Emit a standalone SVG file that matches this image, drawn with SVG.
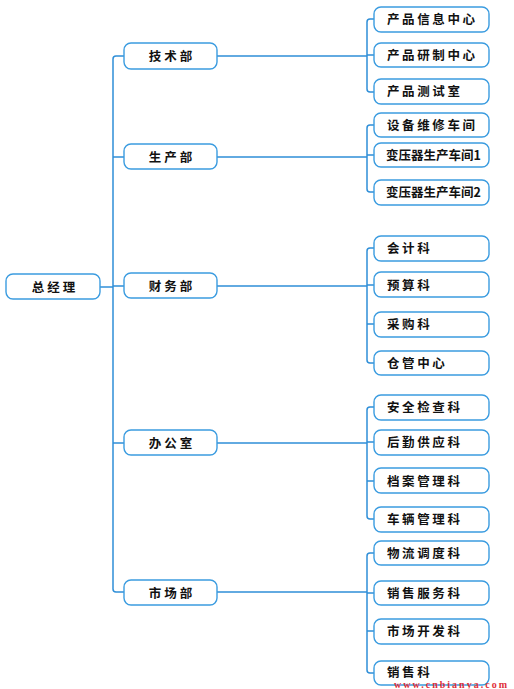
<svg xmlns="http://www.w3.org/2000/svg" width="514" height="689" viewBox="0 0 514 689">
<style>
.box{fill:#ffffff;stroke:#3b9ce0;stroke-width:1.4}
.ln{fill:none;stroke:#2f8fd8;stroke-width:1.5}
.t{font-family:"Noto Sans CJK SC","Noto Sans",sans-serif;font-size:12.5px;font-weight:bold;fill:#111}
.c{text-anchor:middle;letter-spacing:3px}
.s{letter-spacing:2.6px}
</style>
<rect width="514" height="689" fill="#ffffff"/>
<g id="connectors">
<path class="ln" d="M100,287 H113"/>
<path class="ln" d="M124,56 H116 Q113,56 113,59 V589 Q113,592 116,592 H124"/>
<path class="ln" d="M113,157 H124 M113,286 H124 M113,443 H124"/>
<path class="ln" d="M217,56 H367 M217,157 H367 M217,286 H367 M217,443 H367 M217,592 H367"/>
<path class="ln" d="M374,19 H370 Q367,19 367,22 V89 Q367,92 370,92 H374 M367,55 H374"/>
<path class="ln" d="M374,125 H370 Q367,125 367,128 V189 Q367,192 370,192 H374 M367,155 H374"/>
<path class="ln" d="M374,248 H370 Q367,248 367,251 V360 Q367,363 370,363 H374 M367,285 H374 M367,324 H374"/>
<path class="ln" d="M374,407 H370 Q367,407 367,410 V516 Q367,519 370,519 H374 M367,442 H374 M367,481 H374"/>
<path class="ln" d="M374,553 H370 Q367,553 367,556 V670 Q367,673 370,673 H374 M367,593 H374 M367,631 H374"/>
</g>
<g id="n-zjl"><rect class="box" x="6" y="274" width="94" height="25" rx="7"/><text class="t c" x="55" y="292">总经理</text></g>
<g id="n-jsb"><rect class="box" x="124" y="43" width="93" height="26" rx="7"/><text class="t c" x="172" y="61">技术部</text></g>
<g id="n-scb"><rect class="box" x="124" y="144" width="93" height="25" rx="7"/><text class="t c" x="172" y="161.5">生产部</text></g>
<g id="n-cwb"><rect class="box" x="124" y="273" width="93" height="25" rx="7"/><text class="t c" x="172" y="290.5">财务部</text></g>
<g id="n-bgs"><rect class="box" x="124" y="430" width="93" height="25" rx="7"/><text class="t c" x="172" y="447.5">办公室</text></g>
<g id="n-scb2"><rect class="box" x="124" y="580" width="93" height="25" rx="7"/><text class="t c" x="172" y="597.5">市场部</text></g>

<g id="n-1"><rect class="box" x="374" y="7" width="115" height="25" rx="7"/><text class="t s" x="387" y="24">产品信息中心</text></g>
<g id="n-2"><rect class="box" x="374" y="43" width="115" height="24" rx="7"/><text class="t s" x="387" y="59.5">产品研制中心</text></g>
<g id="n-3"><rect class="box" x="374" y="79" width="115" height="25" rx="7"/><text class="t s" x="387" y="96">产品测试室</text></g>
<g id="n-4"><rect class="box" x="374" y="113" width="115" height="24" rx="7"/><text class="t s" x="387" y="129.5">设备维修车间</text></g>
<g id="n-5"><rect class="box" x="374" y="143" width="115" height="24" rx="7"/><text class="t" x="386" y="159.5">变压器生产车间1</text></g>
<g id="n-6"><rect class="box" x="374" y="180" width="115" height="25" rx="7"/><text class="t" x="386" y="197">变压器生产车间2</text></g>

<g id="n-7"><rect class="box" x="374" y="236" width="115" height="25" rx="7"/><text class="t s" x="387" y="253">会计科</text></g>
<g id="n-8"><rect class="box" x="374" y="272" width="115" height="25" rx="7"/><text class="t s" x="387" y="289.5">预算科</text></g>
<g id="n-9"><rect class="box" x="374" y="312" width="115" height="25" rx="7"/><text class="t s" x="387" y="329">采购科</text></g>
<g id="n-10"><rect class="box" x="374" y="351" width="115" height="24" rx="7"/><text class="t s" x="387" y="367.5">仓管中心</text></g>

<g id="n-11"><rect class="box" x="374" y="395" width="115" height="25" rx="7"/><text class="t s" x="387" y="412">安全检查科</text></g>
<g id="n-12"><rect class="box" x="374" y="430" width="115" height="25" rx="7"/><text class="t s" x="387" y="447">后勤供应科</text></g>
<g id="n-13"><rect class="box" x="374" y="468" width="115" height="25" rx="7"/><text class="t s" x="387" y="485.5">档案管理科</text></g>
<g id="n-14"><rect class="box" x="374" y="507" width="115" height="25" rx="7"/><text class="t s" x="387" y="524">车辆管理科</text></g>

<g id="n-15"><rect class="box" x="374" y="541" width="115" height="24" rx="7"/><text class="t s" x="387" y="557.5">物流调度科</text></g>
<g id="n-16"><rect class="box" x="374" y="581" width="115" height="24" rx="7"/><text class="t s" x="387" y="597.5">销售服务科</text></g>
<g id="n-17"><rect class="box" x="374" y="619" width="115" height="25" rx="7"/><text class="t s" x="387" y="636">市场开发科</text></g>
<g id="n-18"><rect class="box" x="374" y="661" width="115" height="24" rx="7"/><text class="t s" x="387" y="676.5">销售科</text></g>

<text x="394" y="688" font-family="Liberation Serif, serif" font-size="10" font-weight="bold" fill="#e0303a" textLength="113" lengthAdjust="spacing">www.cnbianya.com</text>
</svg>
